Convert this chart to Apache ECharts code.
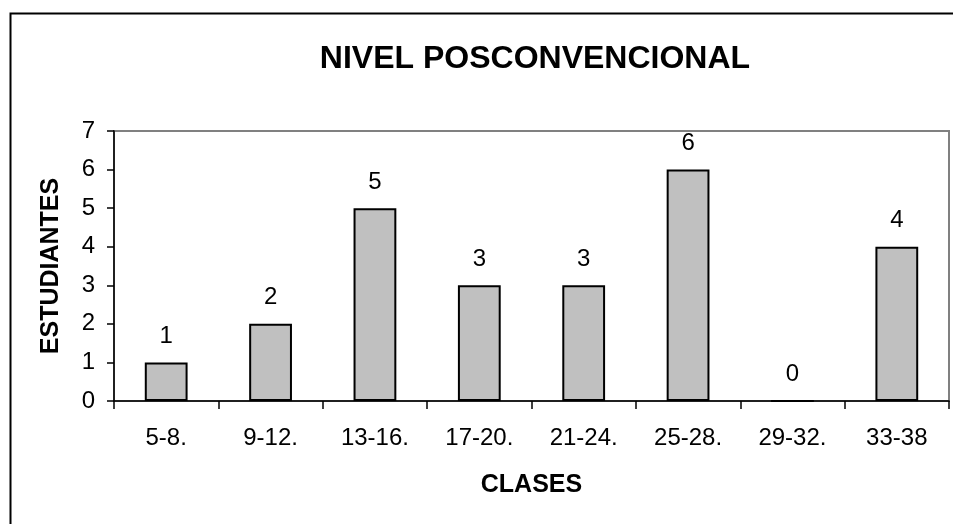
<!DOCTYPE html>
<html>
<head>
<meta charset="utf-8">
<script src="https://cdn.jsdelivr.net/npm/echarts@6/dist/echarts.min.js"></script>
<style>
html,body{margin:0;padding:0;background:#fff;}
#chart{width:953px;height:524px;}
</style>
</head>
<body>
<div id="chart"></div>
<script>
const categories = ['5-8.', '9-12.', '13-16.', '17-20.', '21-24.', '25-28.', '29-32.', '33-38'];
const values = [1, 2, 5, 3, 3, 6, 0, 4];
const titleText = 'NIVEL POSCONVENCIONAL';
const xName = 'CLASES';
const yName = 'ESTUDIANTES';

const FONT = '"Liberation Sans", Arial, sans-serif';
const chart = echarts.init(document.getElementById('chart'), null, {renderer: 'canvas'});
chart.setOption({
  backgroundColor: '#ffffff',
  animation: false,
  title: {
    text: titleText,
    left: 530,
    textAlign: 'center',
    top: 38,
    textStyle: {fontFamily: FONT, fontSize: 32, fontWeight: 'bold', color: '#000'}
  },
  graphic: [{
    type: 'rect',
    left: 8, top: 11,
    shape: {width: 1000, height: 600},
    style: {fill: 'none', stroke: '#000', lineWidth: 2},
    silent: true
  }],
  grid: {
    left: 114, top: 131, right: 4, bottom: 123,
    show: true, borderColor: '#808080', borderWidth: 2, backgroundColor: 'transparent'
  },
  xAxis: {
    type: 'category',
    data: categories,
    name: xName,
    nameLocation: 'middle',
    nameGap: 72,
    nameTextStyle: {fontFamily: FONT, fontSize: 25, fontWeight: 'bold', color: '#000'},
    axisLine: {lineStyle: {color: '#000', width: 1.5}},
    axisTick: {show: true, length: 8, lineStyle: {color: '#000', width: 1.5}},
    axisLabel: {fontFamily: FONT, fontSize: 24, color: '#000', margin: 25, interval: 0}
  },
  yAxis: {
    type: 'value',
    min: 0, max: 7, interval: 1,
    name: yName,
    nameLocation: 'middle',
    nameRotate: 90,
    nameGap: 50,
    nameTextStyle: {fontFamily: FONT, fontSize: 25, fontWeight: 'bold', color: '#000'},
    axisLine: {show: true, lineStyle: {color: '#000', width: 1.5}},
    axisTick: {show: true, length: 7, lineStyle: {color: '#000', width: 1.5}},
    axisLabel: {fontFamily: FONT, fontSize: 24, color: '#000', margin: 19},
    splitLine: {show: false}
  },
  series: [{
    type: 'bar',
    data: values,
    barCategoryGap: '59%',
    itemStyle: {color: '#c0c0c0', borderColor: '#000', borderWidth: 2},
    label: {
      show: true, position: 'top', distance: 14,
      fontFamily: FONT, fontSize: 24, color: '#000'
    }
  }]
});
</script>
</body>
</html>
